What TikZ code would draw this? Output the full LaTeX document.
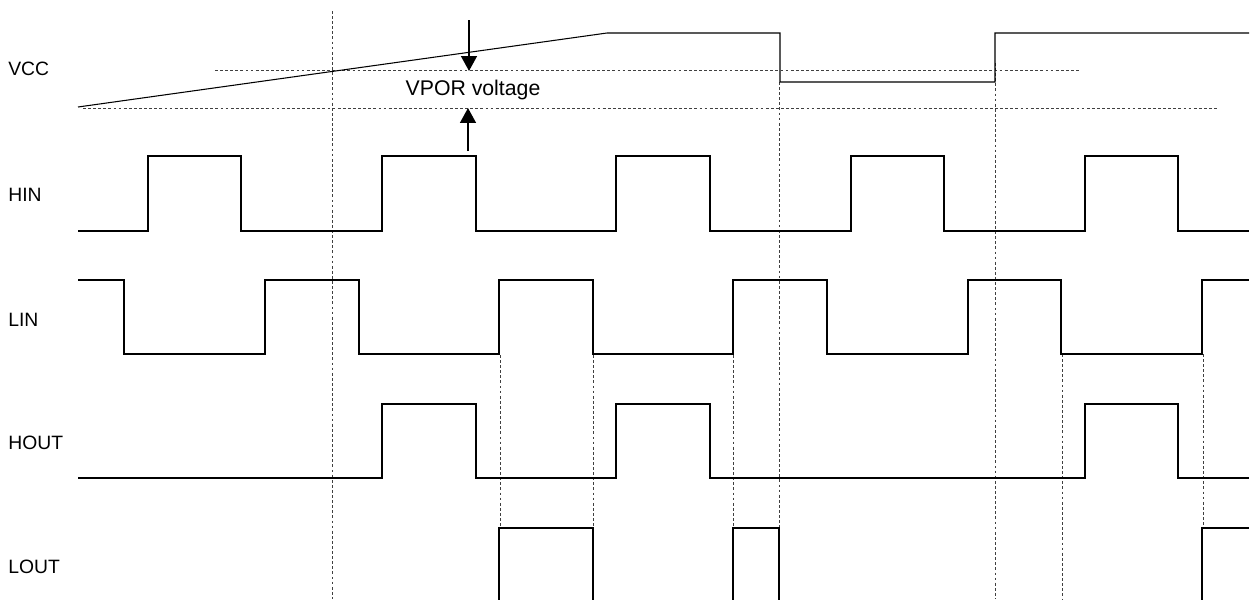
\documentclass[tikz,border=0pt]{standalone}
\usepackage{fontspec}
\setmainfont{Liberation Sans}
\usepackage{tikz}
\usetikzlibrary{arrows.meta, positioning}

\begin{document}
\begin{tikzpicture}[x=0.02cm, y=-0.02cm,
        font=\fontsize{11pt}{13pt}\selectfont,
        sig/.style={anchor=west, inner sep=0pt, text=black},
        wave/.style={draw=black, line width=0.6pt},
        guide/.style={draw=black!75, line width=0.4pt, dash pattern=on 1.6pt off 1.3pt},
        arr/.style={-{Triangle[length=8.5pt,width=9pt]}, draw=black, line width=1.1pt}]
        \useasboundingbox (0,0) rectangle (1250,599);
        % signal names
        \node[sig] (vcc) at (8,69) {VCC};
        \node[sig] (hin) at (8,195) {HIN};
        \node[sig] (lin) at (8,320) {LIN};
        \node[sig] (hout) at (8,443) {HOUT};
        \node[sig] (lout) at (8,567) {LOUT};
        % threshold band
        \draw[guide] (215,70.7) -- (1080,70.7);
        \draw[guide] (83,108) -- (1218,108);
        \node[inner sep=0pt, font=\fontsize{12.1pt}{14pt}\selectfont] (vpor) at (473,90) {VPOR voltage};
        \coordinate (dntop) at (469,20);
        \coordinate (dntip) at (469,71);
        \coordinate (upbot) at (468,151);
        \coordinate (uptip) at (468,108);
        \draw[arr] (dntop) -- (dntip);
        \draw[arr] (upbot) -- (uptip);
        % timing marks
        \draw[guide] (332,11) -- (332,599);
        \draw[guide] (500,355) -- (500,528);
        \draw[guide] (593,355) -- (593,528);
        \draw[guide] (733,355) -- (733,528);
        \draw[guide] (779,82) -- (779,528);
        \draw[guide] (995,63) -- (995,599);
        \draw[guide] (1062,354) -- (1062,599);
        \draw[guide] (1203,354) -- (1203,528);
        % waveforms
        \draw[wave] (78,107) -- (607,33) -- (780,33) -- (780,82) -- (995,82) -- (995,33) -- (1249,33);
        \draw[wave] (78,231) -| (148,156) -| (241,231) -| (382,156) -| (476,231) -| (616,156) -| (710,231)
          -| (851,156) -| (944,231) -| (1085,156) -| (1178,231) -- (1249,231);
        \draw[wave] (78,280) -| (124,354) -| (265,280) -| (359,354) -| (499,280) -| (593,354) -| (733,280)
          -| (827,354) -| (968,280) -| (1061,354) -| (1202,280) -- (1249,280);
        \draw[wave] (78,478) -| (382,404) -| (476,478) -| (616,404) -| (710,478) -| (1085,404) -| (1178,478) -- (1249,478);
        \draw[wave] (499,600) |- (593,528) -- (593,600);
        \draw[wave] (733,600) |- (779,528) -- (779,600);
        \draw[wave] (1202,600) |- (1249,528);
      \end{tikzpicture}
\end{document}
